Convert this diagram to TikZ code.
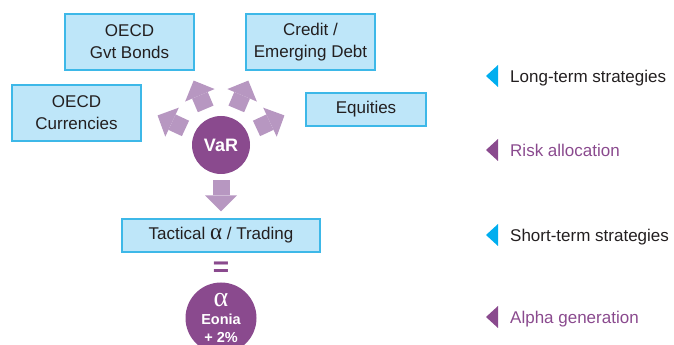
\documentclass[tikz,border=0pt]{standalone}
\usepackage{fontspec}
\setmainfont{Liberation Sans}
\newfontfamily\grk{Liberation Serif}
\usetikzlibrary{arrows.meta,positioning}
\definecolor{boxfill}{HTML}{BEE6F9}
\definecolor{boxline}{HTML}{3DB8E8}
\definecolor{varpurple}{HTML}{8A4A8E}
\definecolor{arrowpurple}{HTML}{B797C1}
\definecolor{markcyan}{HTML}{00AEEF}
\definecolor{textgray}{HTML}{231F20}

\begin{document}
\begin{tikzpicture}[x=1pt,y=1pt,node distance=90.5pt,
  box/.style={draw=boxline,fill=boxfill,line width=1.2pt,inner sep=0pt,
    minimum width=129pt,minimum height=56pt,align=center,text=textgray,
    font=\fontsize{17}{22}\selectfont},
  flatbox/.style={box,minimum height=33pt},
  ball/.style={circle,fill=varpurple,text=white,inner sep=0pt,align=center},
  fat/.style={color=arrowpurple,draw,line width=17pt,shorten <=10pt,
    -{Triangle[width=32pt,length=16pt,line width=0pt,color=arrowpurple,fill=arrowpurple]}},
  legend/.style={anchor=base west,inner sep=0pt,font=\fontsize{17}{20}\selectfont}]
\useasboundingbox (0,0) rectangle (674,345);

\node[ball,minimum size=58pt,font=\fontsize{18}{18}\selectfont\bfseries] (var) at (221,200) {VaR};
\node[box]				(s_1)	at (76.5,232)	{OECD\\Currencies};
\node[box]				(s_2)	at (129.5,303)	{OECD\\Gvt Bonds};
\node[box]				(s_3)	at (310.5,303)	{Credit /\\Emerging Debt};
\node[flatbox,minimum width=120pt]	(s_4)	at (366,235.5)	{Equities};
\node[flatbox,minimum width=198pt]	(tact)	[below of=var]	{Tactical {\grk\fontsize{23}{22}\selectfont α} / Trading};
\node[text=varpurple,font=\fontsize{28}{28}\selectfont\bfseries]
					(eq)	[below of=tact,node distance=34pt]	{=};
\node[ball,minimum size=71pt,font=\fontsize{14.5}{18}\selectfont\bfseries]
					(alpha)	[below of=tact,node distance=82.5pt]
	{{\grk\mdseries\fontsize{28}{18}\selectfont α}\\Eonia\\+ 2\%};

% arrow ends round VaR
\path (var)	+(155:70) coordinate (e_1)
		+(113:70) coordinate (e_2)
		+(67:70)  coordinate (e_3)
		+(25:70)  coordinate (e_4);
\path[fat]	(var)	edge (e_1)
			edge (e_2)
			edge (e_3)
			edge (e_4)
			edge [shorten <=6pt,shorten >=7pt] (tact);

% legend
\node[legend,text=textgray]	(l_1)	at (510,262.5)	{Long-term strategies};
\node[legend,text=varpurple]	(l_2)	at (510,188.5)	{Risk allocation};
\node[legend,text=textgray]	(l_3)	at (510,103.5)	{Short-term strategies};
\node[legend,text=varpurple]	(l_4)	at (510,21.5)	{Alpha generation};
\fill[markcyan]		(l_1.base west) ++(-12,17.5) -- ++(0,-22) -- ++(-12,11) -- cycle;
\fill[varpurple]	(l_2.base west) ++(-12,17.5) -- ++(0,-22) -- ++(-12,11) -- cycle;
\fill[markcyan]		(l_3.base west) ++(-12,17.5) -- ++(0,-22) -- ++(-12,11) -- cycle;
\fill[varpurple]	(l_4.base west) ++(-12,17.5) -- ++(0,-22) -- ++(-12,11) -- cycle;
\end{tikzpicture}
\end{document}
